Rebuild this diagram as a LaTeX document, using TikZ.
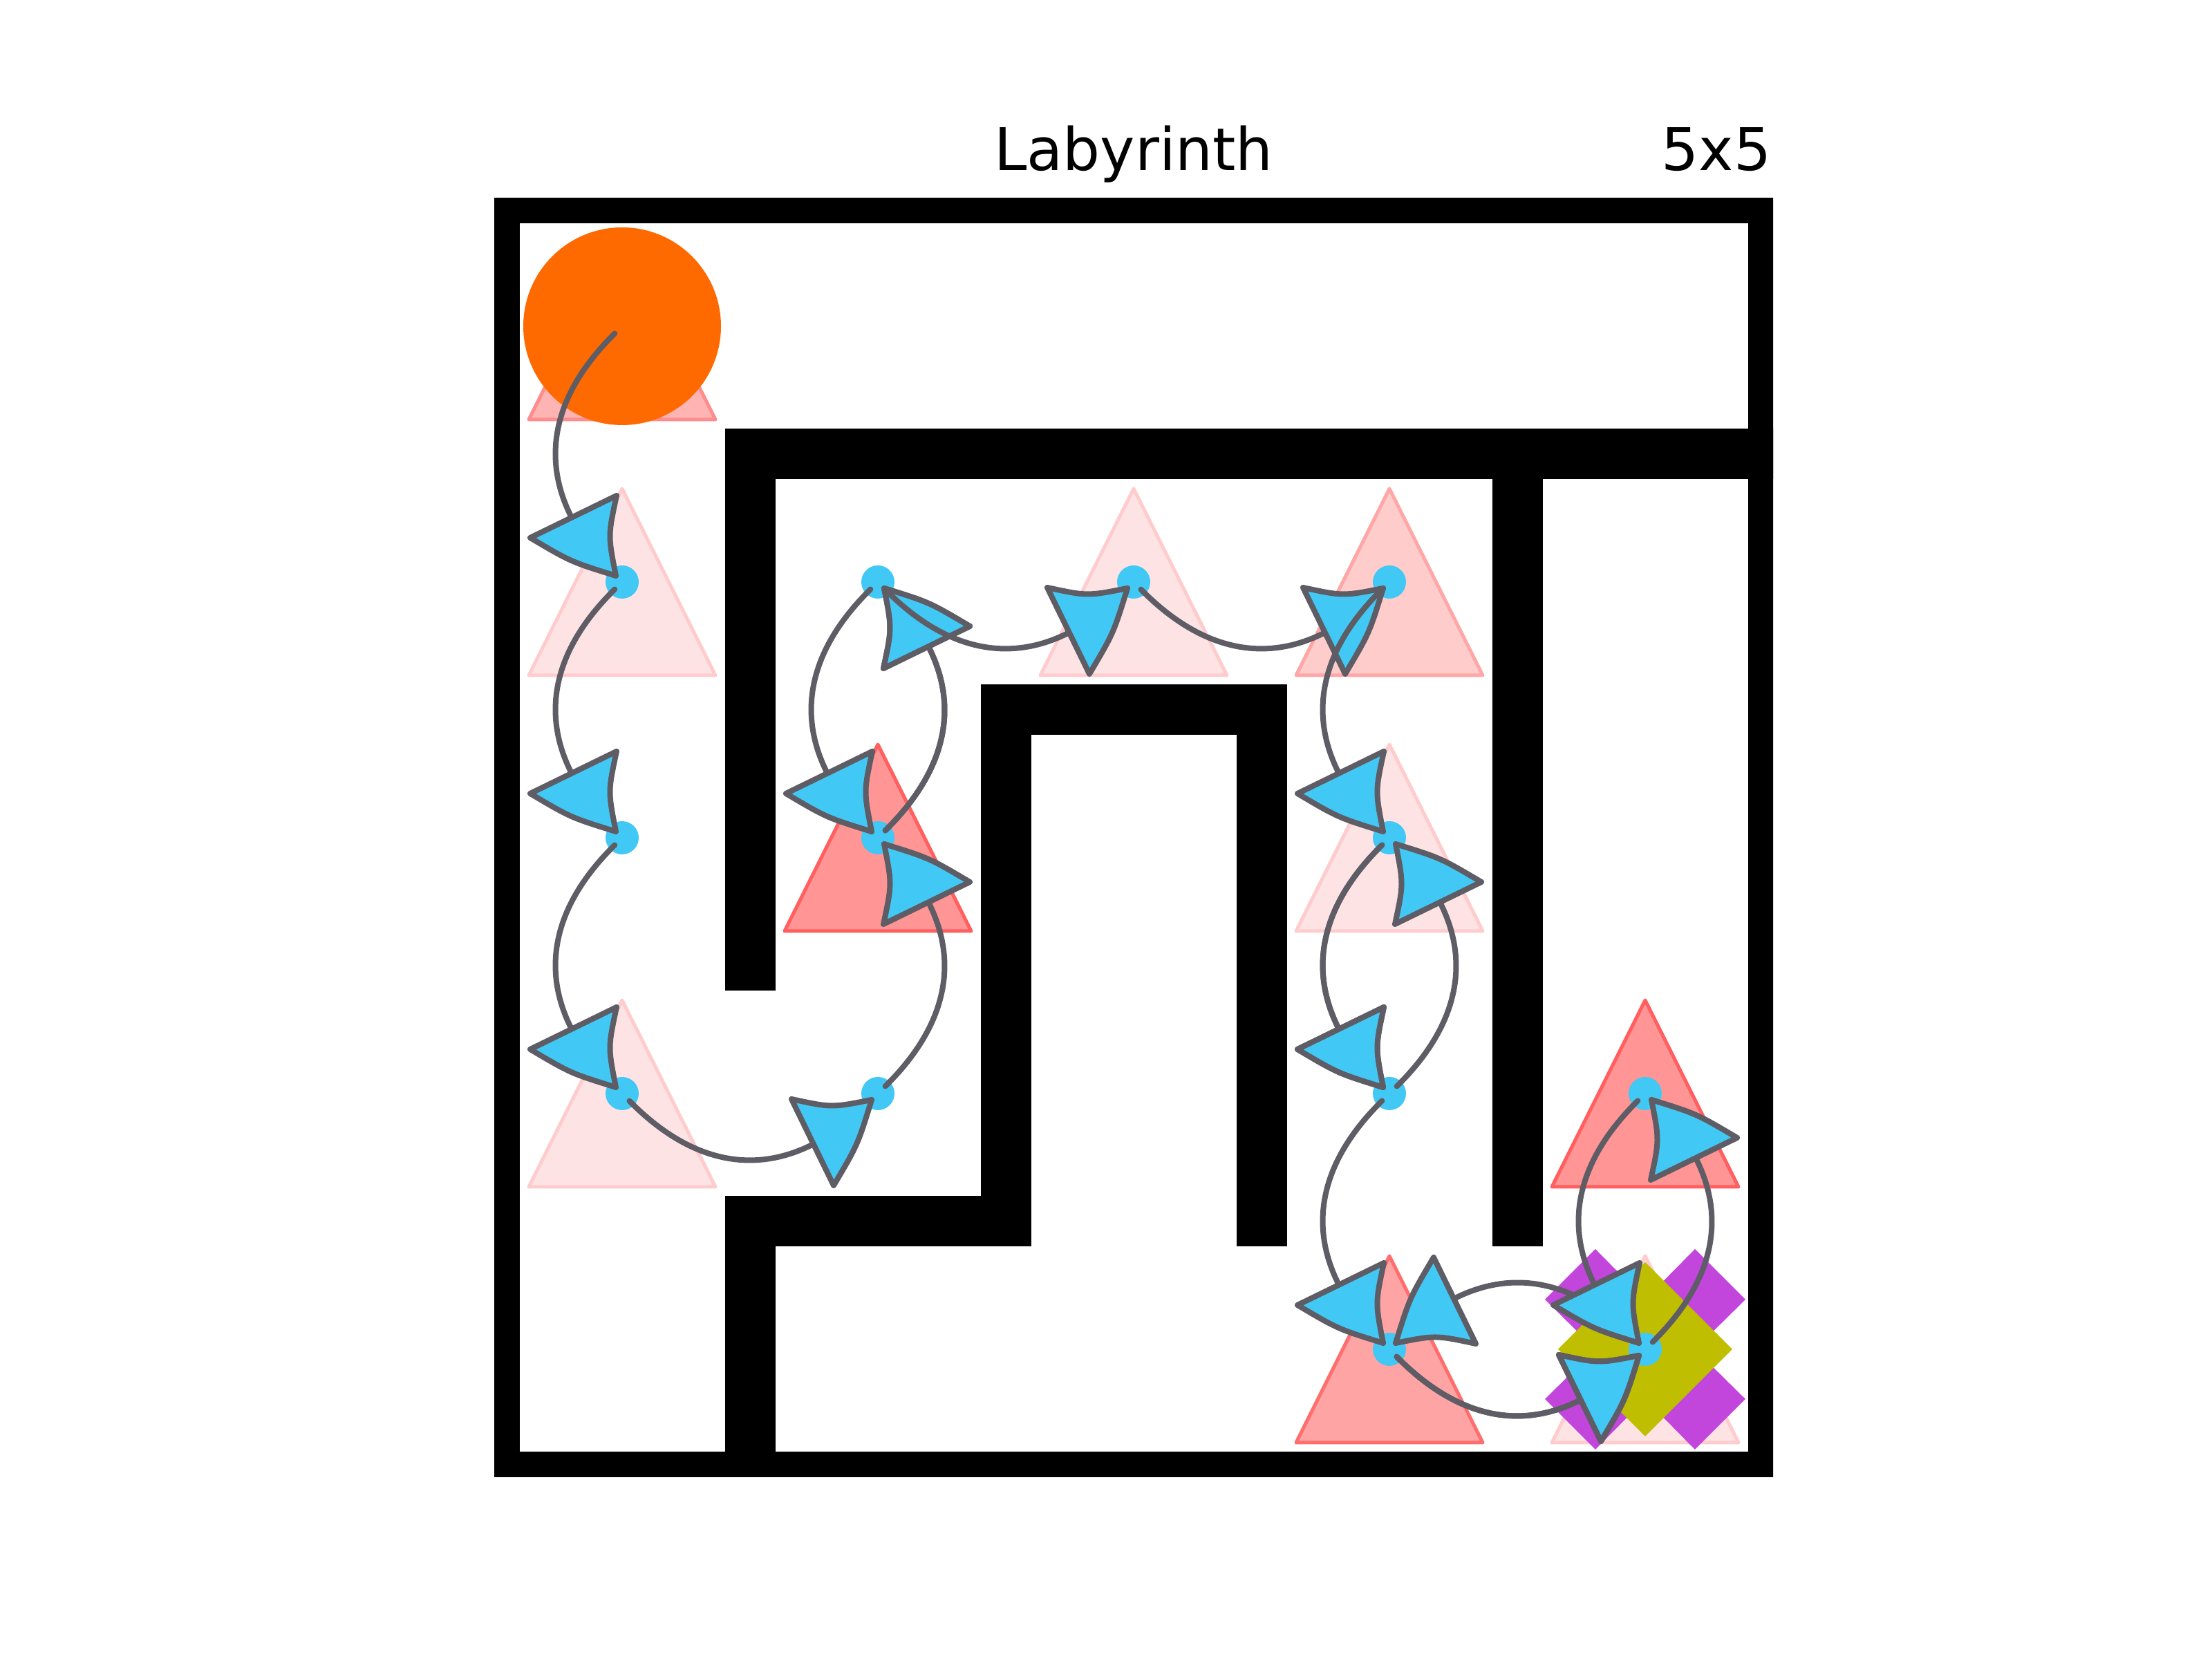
\documentclass[tikz,border=0pt]{standalone}
\usepackage{fontspec}
\setmainfont{DejaVu Sans}
\definecolor{linegray}{HTML}{5E5C64}
\definecolor{dotblue}{HTML}{42C8F4}
\definecolor{startorange}{HTML}{FF6A00}
\definecolor{xpurple}{HTML}{C246DC}
\definecolor{dolive}{HTML}{BFBE00}
\definecolor{trAfill}{HTML}{FEE3E4}\definecolor{trAedge}{HTML}{FFCCCD}
\definecolor{trBfill}{HTML}{FFCCCC}\definecolor{trBedge}{HTML}{FFA6A6}
\definecolor{trCfill}{HTML}{FFB4B4}\definecolor{trCedge}{HTML}{FF8C8C}
\definecolor{trDfill}{HTML}{FF9595}\definecolor{trDedge}{HTML}{FF5F5F}
\definecolor{trEfill}{HTML}{FFA4A4}\definecolor{trEedge}{HTML}{FF6E6E}
\tikzset{
  wall/.style={line width=0.73cm, line cap=rect, line join=miter, draw=black},
  conn/.style={draw=linegray, line width=0.08cm, line cap=round, shorten <=0.15cm, shorten >=0.13cm},
  headshape/.style={fill=dotblue, draw=linegray, line width=0.08cm, line join=round},
  dot/.style={circle, fill=dotblue, inner sep=0pt, minimum size=0.48cm},
  head/.pic={\path[headshape] (-0.08,1.25) -- (-1.33,0.64) .. controls (-0.742,0.292) .. (-0.09,0.09) .. controls (-0.205,0.67) .. cycle;}
}
\newcommand\tri[3]{\draw[shift={(#1)}, fill=#2, draw=#3, line width=0.05cm, line join=round] (0,1.35) -- (1.35,-1.35) -- (-1.35,-1.35) -- cycle;}
\newcommand\mvD[2]{\draw[conn] (#1) .. controls +(-1.253,-1.233) and +(-1.253,1.233) .. (#2); \pic[rotate=0] at (#2) {head};}
\newcommand\mvR[2]{\draw[conn] (#1) .. controls +(1.233,-1.253) and +(-1.233,-1.253) .. (#2); \pic[rotate=90] at (#2) {head};}
\newcommand\mvU[2]{\draw[conn] (#1) .. controls +(1.253,1.233) and +(1.253,-1.233) .. (#2); \pic[rotate=180] at (#2) {head};}
\newcommand\mvL[2]{\draw[conn] (#1) .. controls +(-1.233,1.253) and +(1.233,1.253) .. (#2); \pic[rotate=-90] at (#2) {head};}
\begin{document}
\begin{tikzpicture}
\useasboundingbox (0,0) rectangle (32,24);
% cell centres
\coordinate (c00) at (9.00,19.28);
\coordinate (c01) at (9.00,15.58);
\coordinate (c02) at (9.00,11.88);
\coordinate (c03) at (9.00,8.18);
\coordinate (c11) at (12.70,15.58);
\coordinate (c12) at (12.70,11.88);
\coordinate (c13) at (12.70,8.18);
\coordinate (c21) at (16.40,15.58);
\coordinate (c31) at (20.10,15.58);
\coordinate (c32) at (20.10,11.88);
\coordinate (c33) at (20.10,8.18);
\coordinate (c34) at (20.10,4.48);
\coordinate (c43) at (23.80,8.18);
\coordinate (c44) at (23.80,4.48);
% title
\node[anchor=base, inner sep=0pt, font=\fontsize{24.2}{29}\selectfont] (title) at (16.40,21.533) {Labyrinth};
\node[anchor=base east, inner sep=0pt, font=\fontsize{24.2}{29}\selectfont] (size) at (25.63,21.533) {5x5};
% walls
\begin{scope}
  \clip (7.15,2.63) rectangle (25.65,21.13);
  \draw[wall] (7.15,2.63) rectangle (25.65,21.13);
  \draw[wall] (25.65,17.43) -- (10.85,17.43) -- (10.85,10.03);
  \draw[wall] (21.95,17.43) -- (21.95,6.33);
  \draw[wall] (18.25,6.33) -- (18.25,13.73) -- (14.55,13.73) -- (14.55,6.33) -- (10.85,6.33) -- (10.85,2.63);
\end{scope}
% visit triangles
\tri{c00}{trCfill}{trCedge}
\tri{c01}{trAfill}{trAedge}
\tri{c03}{trAfill}{trAedge}
\tri{c12}{trDfill}{trDedge}
\tri{c21}{trAfill}{trAedge}
\tri{c31}{trBfill}{trBedge}
\tri{c32}{trAfill}{trAedge}
\tri{c34}{trEfill}{trEedge}
\tri{c43}{trDfill}{trDedge}
\tri{c44}{trAfill}{trAedge}
% start
\node[circle, fill=startorange, inner sep=0pt, minimum size=2.86cm] (start) at (c00) {};
% goal markers
\fill[xpurple, shift={(c44)}, line join=round] (-0.72,1.45) -- (0,0.72) -- (0.72,1.45) -- (1.45,0.72) -- (0.72,0) -- (1.45,-0.72) -- (0.72,-1.45) -- (0,-0.72) -- (-0.72,-1.45) -- (-1.45,-0.72) -- (-0.72,0) -- (-1.45,0.72) -- cycle;
\fill[dolive, shift={(c44)}] (0,1.26) -- (1.26,0) -- (0,-1.26) -- (-1.26,0) -- cycle;
% dots
\foreach \c in {01,02,03,11,12,13,21,31,32,33,34,43,44} {\node[dot] (d\c) at (c\c) {};}
% moves
\mvD{c00}{c01}
\mvD{c01}{c02}
\mvD{c02}{c03}
\mvR{c03}{c13}
\mvU{c13}{c12}
\mvU{c12}{c11}
\mvD{c11}{c12}
\mvU{c12}{c11}
\mvR{c11}{c21}
\mvR{c21}{c31}
\mvD{c31}{c32}
\mvD{c32}{c33}
\mvU{c33}{c32}
\mvD{c32}{c33}
\mvD{c33}{c34}
\mvR{c34}{c44}
\mvL{c44}{c34}
\mvR{c34}{c44}
\mvU{c44}{c43}
\mvD{c43}{c44}
\end{tikzpicture}
\end{document}
